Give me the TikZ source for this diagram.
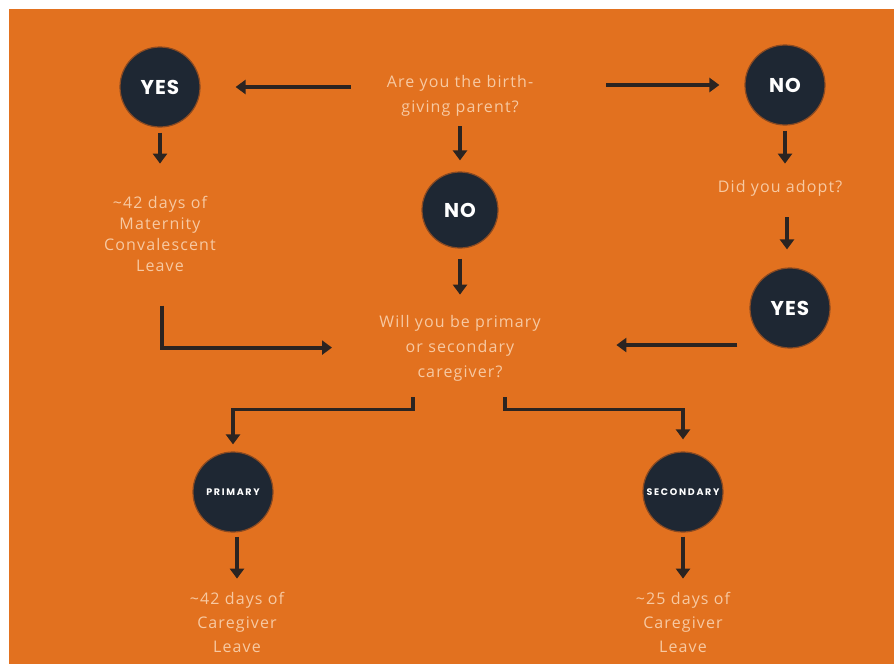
\documentclass[tikz,border=0pt]{standalone}
\usepackage{fontspec}
\setmainfont{Open Sans}[LetterSpace=7]
\newfontfamily\circfont{Poppins}[LetterSpace=5]
\newfontfamily\tinyfont{Poppins}[LetterSpace=18]
\usetikzlibrary{arrows.meta}
\definecolor{bgorange}{HTML}{E2711F}
\definecolor{circdark}{HTML}{1E2733}
\definecolor{circrim}{HTML}{8A4A22}
\definecolor{txtpeach}{HTML}{F7C9A2}
\definecolor{arrdark}{HTML}{2B2421}
\tikzset{
  circ/.style={circle, fill=circdark, draw=circrim, line width=1.2pt, minimum size=80pt, inner sep=0pt, text=white, font=\circfont\bfseries\fontsize{20}{20}\selectfont},
  smallcirc/.style={circ, font=\tinyfont\bfseries\fontsize{9.5}{9.5}\selectfont},
  txt/.style={text=txtpeach, align=center, inner sep=0pt, font=\fontsize{16}{25}\selectfont},
  arr/.style={draw=arrdark, line width=3.8pt, line join=miter, -{Triangle[length=10pt,width=14pt]}}
}
\begin{document}
\begin{tikzpicture}[x=1pt,y=-1pt]
\fill[white] (0,0) rectangle (894,664);
\fill[bgorange] (9,9) rectangle (894,664);
\useasboundingbox (0,0) rectangle (894,664);

\node[txt] (q1) at (460,96) {Are you the birth-\\giving parent?};
\node[circ] (yes1) at (160,87) {YES};
\node[circ] (no1) at (785,85) {NO};
\node[circ, minimum size=76pt] (no2) at (460,210) {NO};
\node[txt, font=\fontsize{16}{21}\selectfont] (mat) at (160,234) {\textasciitilde42 days of\\Maternity\\Convalescent\\Leave};
\node[txt] (adopt) at (780,188) {Did you adopt?};
\node[circ] (yes2) at (790,308) {YES};
\node[txt] (q2) at (460,348) {Will you be primary\\or secondary\\caregiver?};
\node[smallcirc] (prim) at (233,492) {PRIMARY};
\node[smallcirc] (sec) at (683,492) {SECONDARY};
\node[txt, font=\fontsize{16}{24}\selectfont] (cg1) at (237,622) {\textasciitilde42 days of\\Caregiver\\Leave};
\node[txt, font=\fontsize{16}{24}\selectfont] (cg2) at (683,622) {\textasciitilde25 days of\\Caregiver\\Leave};

% top horizontal arrows
\draw[arr] (yes1.east) ++(150,0) -- ++(-115,0);
\draw[arr] (no1.west) ++(-138,0) -- ++(113,0);
% vertical arrows
\draw[arr] (yes1.south) ++(0,5) -- ++(0,31);
\draw[arr] (no2.north) ++(0,-45) -- ++(0,34);
\draw[arr] (no2.south) ++(0,10) -- ++(0,36);
\draw[arr] (no1.south) ++(0,5) -- ++(0,33);
\draw[arr] (yes2.north) ++(-3,-50) -- ++(0,32);
% to question 2
\draw[arr] (yes2.west) ++(-12,37) -- ++(-121,0);
\draw[arr] (yes1.south) ++(2,178) -- ++(0,42) -- ++(170,0);
% to primary / secondary
\draw[arr] (prim.north) ++(180,-54) -- ++(0,12) -- ++(-180,0) -- ++(0,35);
\draw[arr] (sec.north) ++(-178,-54) -- ++(0,12) -- ++(178,0) -- ++(0,30);
% to leave texts
\draw[arr] (prim.south) ++(4,4) -- ++(0,42);
\draw[arr] (sec.south) ++(0,4) -- ++(0,42);
\end{tikzpicture}
\end{document}
